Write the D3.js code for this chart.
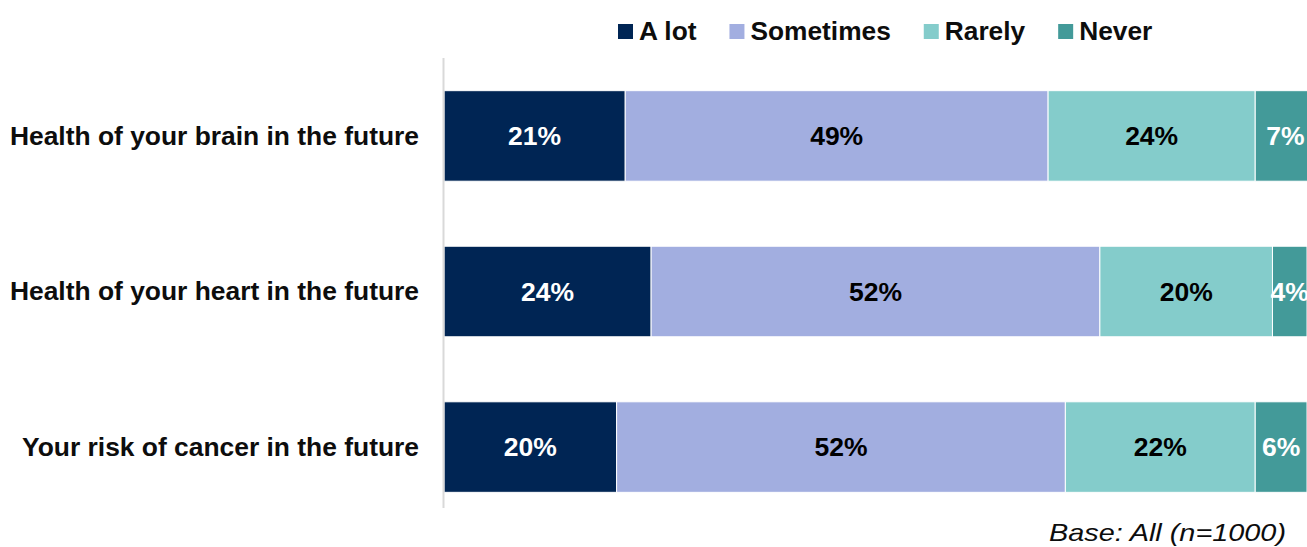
<!DOCTYPE html>
<html>
<head>
<meta charset="utf-8">
<script src="https://cdn.jsdelivr.net/npm/d3@7"></script>
<style>
  html, body { margin: 0; padding: 0; background: #fff; }
  svg { display: block; font-family: "Liberation Sans", Arial, sans-serif; }
</style>
</head>
<body>
<svg id="chart" width="1307" height="547"></svg>
<script>
// Survey topics (rows) and answer categories (stacked segments)
const topics = [
  "Health of your brain in the future",
  "Health of your heart in the future",
  "Your risk of cancer in the future"
];
const answers = ["A lot", "Sometimes", "Rarely", "Never"];

// Percentages per answer, one value per topic
const aLot      = [21, 24, 20];
const sometimes = [49, 52, 52];
const rarely    = [24, 20, 22];
const never     = [7, 4, 6];

const colors = ["#002554", "#a2aee0", "#84cccb", "#439a99"];
const labelColors = ["#ffffff", "#000000", "#000000", "#ffffff"];
const footnote = "Base: All (n=1000)";

const rows = topics.map((t, i) => ({
  topic: t,
  "A lot": aLot[i],
  "Sometimes": sometimes[i],
  "Rarely": rarely[i],
  "Never": never[i]
}));

const svg = d3.select("#chart");

const x = d3.scaleLinear().domain([0, 100]).range([444, 1307]);
const y = d3.scaleBand().domain(topics).range([58, 525])
  .paddingInner(0.418).paddingOuter(0.21);
const color = d3.scaleOrdinal().domain(answers).range(colors);
const labelColor = d3.scaleOrdinal().domain(answers).range(labelColors);

const stacked = d3.stack().keys(answers)(rows);

// Segments
const layers = svg.append("g").selectAll("g")
  .data(stacked).join("g")
  .attr("fill", d => color(d.key));

layers.selectAll("rect")
  .data(d => d.map(v => ({ key: d.key, v })))
  .join("rect")
  .attr("x", d => x(d.v[0]))
  .attr("y", d => y(d.v.data.topic))
  .attr("width", d => x(d.v[1]) - x(d.v[0]))
  .attr("height", y.bandwidth())
  .attr("stroke", "#ffffff")
  .attr("stroke-width", 1);

// Value labels
layers.selectAll("text")
  .data(d => d.map(v => ({ key: d.key, v })))
  .join("text")
  .attr("x", d => (x(d.v[0]) + x(d.v[1])) / 2)
  .attr("y", d => y(d.v.data.topic) + y.bandwidth() / 2)
  .attr("dy", "0.35em")
  .attr("text-anchor", "middle")
  .attr("font-size", 26.5)
  .attr("font-weight", "bold")
  .attr("fill", d => labelColor(d.key))
  .text(d => (d.v[1] - d.v[0]) + "%");

// Category axis line
svg.append("line")
  .attr("x1", 443.5).attr("x2", 443.5)
  .attr("y1", 58).attr("y2", 508)
  .attr("stroke", "#d9d9d9").attr("stroke-width", 2);

// Category labels
const yAxis = d3.axisLeft(y).tickSize(0).tickPadding(0);
const gy = svg.append("g").attr("transform", "translate(419,0)").call(yAxis);
gy.select(".domain").remove();
gy.selectAll("text")
  .attr("dy", "0.33em")
  .attr("font-size", 26.4)
  .attr("font-weight", "bold")
  .attr("font-family", "Liberation Sans, Arial, sans-serif")
  .attr("fill", "#0d0d0d");

// Legend
const legend = svg.append("g");
let lx = 618;
answers.forEach(a => {
  legend.append("rect")
    .attr("x", lx).attr("y", 24)
    .attr("width", 15).attr("height", 15)
    .attr("fill", color(a));
  const t = legend.append("text")
    .attr("x", lx + 21).attr("y", 40)
    .attr("font-size", 26.3)
    .attr("font-weight", "bold")
    .attr("fill", "#0d0d0d")
    .text(a);
  lx += 21 + t.node().getComputedTextLength() + 33;
});

// Footnote
svg.append("text")
  .attr("x", 1286).attr("y", 541)
  .attr("text-anchor", "end")
  .attr("font-size", 24)
  .attr("font-style", "italic")
  .attr("fill", "#0d0d0d")
  .attr("textLength", 237)
  .attr("lengthAdjust", "spacingAndGlyphs")
  .text(footnote);
</script>
</body>
</html>
